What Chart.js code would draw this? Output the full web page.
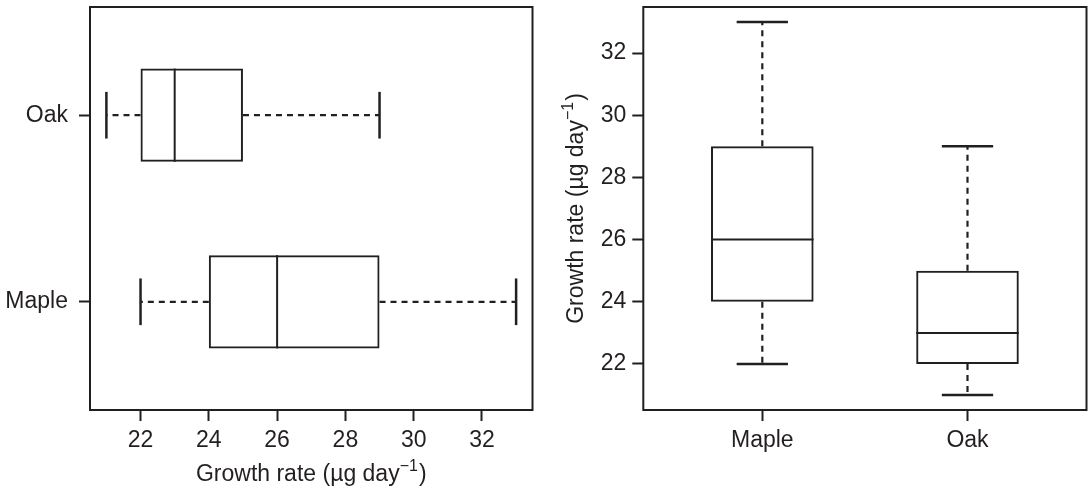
<!DOCTYPE html>
<html>
<head>
<meta charset="utf-8">
<script src="https://cdn.jsdelivr.net/npm/chart.js@4/dist/chart.umd.min.js"></script>
<style>
  html, body { margin: 0; padding: 0; background: #fff; }
  #wrap { display: flex; width: 1092px; height: 488px; }
  canvas { display: block; }
</style>
</head>
<body>
<div id="wrap">
  <canvas id="leftChart" width="546" height="488"></canvas>
  <canvas id="rightChart" width="546" height="488"></canvas>
</div>
<script>
// Data
const species = ['Maple', 'Oak'];
const mins = [22, 21];
const q1s = [24, 22];
const medians = [26, 23];
const q3s = [29, 25];
const maxs = [33, 29];
const valueTicks = [22, 24, 26, 28, 30, 32];
const axisTitle = ['Growth rate (\u00b5g day', '\u22121', ')'];

const ink = '#231f20';
Chart.defaults.font.family = '"Liberation Sans", Arial, Helvetica, sans-serif';
Chart.defaults.font.size = 23;
Chart.defaults.color = ink;

/* range like R: data range padded by 4% */
const valMin = 20.52, valMax = 33.48;
const catMin = 0.42, catMax = 2.58;

function buildData(horiz){
    return {
        datasets: [{
            data: species.map((s, i) => horiz
                ? { y: i + 1, x: [q1s[i], q3s[i]] }
                : { x: i + 1, y: [q1s[i], q3s[i]] }),
            backgroundColor: 'rgba(255,255,255,0)',
            borderColor: ink,
            borderWidth: 2,
            borderSkipped: false,
            categoryPercentage: 0.5,
            barPercentage: 1
        }]
    };
}

// fixed axis band size, no extra label overflow padding
function fixSize(size){
    return s => {
        if(s.isHorizontal()) s.height = size; else s.width = size;
        s.paddingTop = s.paddingBottom = s.paddingLeft = s.paddingRight = 0;
    };
}

function valueScale(size){
    return {
        type: 'linear',
        min: valMin, max: valMax,
        offset: false,
        afterBuildTicks: s => { s.ticks = valueTicks.map(v => ({ value: v })); },
        ticks: { padding: 6, color: ink },
        grid: { offset: false, drawOnChartArea: false, tickLength: 11, tickWidth: 2, tickColor: ink },
        border: { display: false },
        afterFit: fixSize(size)
    };
}

function categoryScale(size, pad){
    return {
        type: 'linear',
        min: catMin, max: catMax,
        offset: false,
        afterBuildTicks: s => { s.ticks = species.map((n, i) => ({ value: i + 1 })); },
        ticks: { padding: pad, color: ink, callback: v => species[v - 1] },
        grid: { offset: false, drawOnChartArea: false, tickLength: 11, tickWidth: 2, tickColor: ink },
        border: { display: false },
        afterFit: fixSize(size)
    };
}

function drawTitle(ctx, cx, cy, rotate){
    const big = '23px "Liberation Sans", Arial, sans-serif';
    const small = '16px "Liberation Sans", Arial, sans-serif';
    ctx.save();
    ctx.font = big;
    const w0 = ctx.measureText(axisTitle[0]).width;
    const w2 = ctx.measureText(axisTitle[2]).width;
    ctx.font = small;
    const w1 = ctx.measureText(axisTitle[1]).width;
    const total = w0 + w1 + w2 + 1;
    ctx.translate(cx, cy);
    if(rotate) ctx.rotate(-Math.PI / 2);
    ctx.fillStyle = ink;
    ctx.textBaseline = 'alphabetic';
    ctx.textAlign = 'left';
    let x = -total / 2;
    ctx.font = big;
    ctx.fillText(axisTitle[0], x, 0);
    x += w0;
    ctx.font = small;
    ctx.fillText(axisTitle[1], x, -10);
    x += w1 + 1;
    ctx.font = big;
    ctx.fillText(axisTitle[2], x, 0);
    ctx.restore();
}

/* medians, whiskers, staples, frame */
const boxParts = {
    id: 'boxParts',
    afterDatasetsDraw(chart){
        const ctx = chart.ctx;
        const horiz = chart.options.indexAxis === 'y';
        const iScale = horiz ? chart.scales.y : chart.scales.x;
        const vScale = horiz ? chart.scales.x : chart.scales.y;
        const bars = chart.getDatasetMeta(0).data;

        species.forEach((s, i) => {
            const c = iScale.getPixelForValue(i + 1);
            const half = (horiz ? bars[i].height : bars[i].width) / 2;
            const pt = (v, off) => horiz
                ? [vScale.getPixelForValue(v), c + off]
                : [c + off, vScale.getPixelForValue(v)];
            const seg = (v1, o1, v2, o2, width, dash) => {
                const a = pt(v1, o1), b = pt(v2, o2);
                ctx.save();
                ctx.strokeStyle = ink;
                ctx.lineWidth = width;
                ctx.setLineDash(dash || []);
                ctx.beginPath();
                ctx.moveTo(a[0], a[1]);
                ctx.lineTo(b[0], b[1]);
                ctx.stroke();
                ctx.restore();
            };
            seg(medians[i], -half, medians[i], half, 2);
            seg(q3s[i], 0, maxs[i], 0, 2.2, [6, 5]);
            seg(q1s[i], 0, mins[i], 0, 2.2, [6, 5]);
            seg(maxs[i], -half / 2, maxs[i], half / 2, 2.5);
            seg(mins[i], -half / 2, mins[i], half / 2, 2.5);
        });

        const a = chart.chartArea;
        ctx.save();
        ctx.strokeStyle = ink;
        ctx.lineWidth = 2;
        ctx.strokeRect(a.left, a.top, a.right - a.left, a.bottom - a.top);
        ctx.restore();

        if(horiz) drawTitle(ctx, (a.left + a.right) / 2, 481, false);
        else drawTitle(ctx, 37, (a.top + a.bottom) / 2, true);
    }
};

function makeChart(id, horiz){
    const ctx = document.getElementById(id).getContext('2d');
    return new Chart(ctx, {
        type: 'bar',
        data: buildData(horiz),
        options: {
            indexAxis: horiz ? 'y' : 'x',
            responsive: false,
            devicePixelRatio: 1,
            animation: false,
            layout: { padding: horiz
                ? { left: 0, right: 13.5, top: 7, bottom: 0 }
                : { left: 0, right: 5.5, top: 7, bottom: 0 } },
            plugins: { legend: { display: false }, tooltip: { enabled: false } },
            scales: horiz
                ? { x: valueScale(78), y: categoryScale(90, 11) }
                : { x: categoryScale(78, 6), y: valueScale(97.3) }
        },
        plugins: [boxParts]
    });
}

makeChart('leftChart', true);
makeChart('rightChart', false);
</script>
</body>
</html>
